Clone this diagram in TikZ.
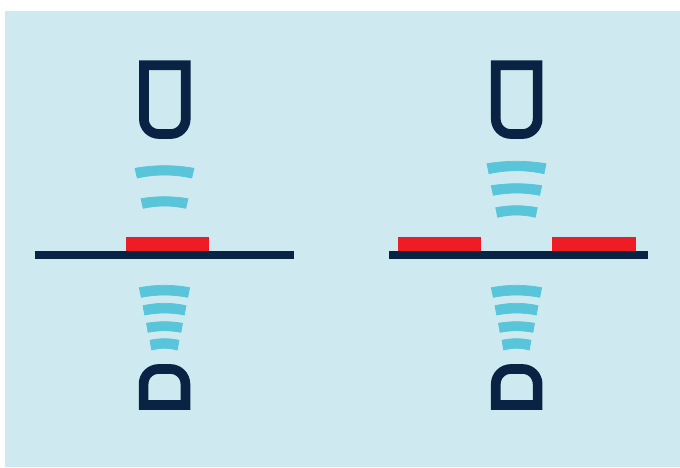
\documentclass[tikz,border=0pt]{standalone}
\definecolor{bgblue}{HTML}{CEEAF0}
\definecolor{navy}{HTML}{0A2344}
\definecolor{barred}{HTML}{EE1C25}
\definecolor{wavecyan}{HTML}{58C5DA}
% #1 centre x, #2 half width top, #3 top edge y, #4 top middle y, #5 half width bottom, #6 bottom edge y, #7 bottom middle y
\newcommand{\wavearc}[7]{%
  \filldraw[wavecyan,line width=0.7pt,line join=round] ({#1-#2},#3) .. controls ({#1-#2/3},{#3+(#4-#3)*4/3}) and ({#1+#2/3},{#3+(#4-#3)*4/3}) .. ({#1+#2},#3)
    -- ({#1+#5},#6) .. controls ({#1+#5/3},{#6+(#7-#6)*4/3}) and ({#1-#5/3},{#6+(#7-#6)*4/3}) .. ({#1-#5},#6) -- cycle;}
% #1 centre x
\newcommand{\probedown}[1]{%
  \draw[probeline] ({#1-20.9},65.3) -- ({#1+20.9},65.3) -- ({#1+20.9},119) arc[start angle=0,end angle=90,radius=15]
    -- ({#1-5.9},134) arc[start angle=90,end angle=180,radius=15] -- cycle;}
\newcommand{\probeup}[1]{%
  \draw[probeline] ({#1-20.9},405) -- ({#1+20.9},405) -- ({#1+20.9},384) arc[start angle=0,end angle=-90,radius=15]
    -- ({#1-5.9},369) arc[start angle=-90,end angle=-180,radius=15] -- cycle;}
\newcommand{\lowerwaves}[1]{%
  \wavearc{#1}{25.2}{287.7}{285.3}{23.2}{297.3}{295}
  \wavearc{#1}{21.5}{305.7}{303.3}{19.8}{315}{313}
  \wavearc{#1}{18}{323.3}{321.7}{16.4}{332.3}{330.7}
  \wavearc{#1}{14.5}{340.3}{338.7}{12.8}{350}{348.3}}
\tikzset{probeline/.style={draw=navy,line width=9.7pt,miter limit=10,line join=miter}}
\begin{document}
\begin{tikzpicture}[x=1pt,y=-1pt]
\useasboundingbox (0,0) rectangle (680,467);
\fill[bgblue] (5,11) rectangle (680,467);
% red layers
\fill[barred] (126,237) rectangle (209,250.5);
\fill[barred] (397.5,237) rectangle (481,250.5);
\fill[barred] (552,237) rectangle (636,250.5);
% substrates
\fill[navy] (35,250.5) rectangle (294,258.5);
\fill[navy] (388.5,250.5) rectangle (648,258.5);
% probes
\probedown{164.8}
\probedown{516.7}
\probeup{164.5}
\probeup{516.7}
% waves, left
\wavearc{164.5}{29.5}{168.3}{165.7}{27.2}{178}{175}
\wavearc{164.5}{23.5}{198.7}{196.7}{21.3}{208.3}{206}
\lowerwaves{164.5}
% waves, right
\wavearc{516.5}{29.5}{163.7}{161.3}{27.5}{173.7}{170.7}
\wavearc{516.5}{25.2}{185.7}{183.7}{23.2}{195.3}{193}
\wavearc{516.5}{20.8}{207.7}{205.7}{18.8}{217.3}{215}
\lowerwaves{516.5}
\end{tikzpicture}
\end{document}
